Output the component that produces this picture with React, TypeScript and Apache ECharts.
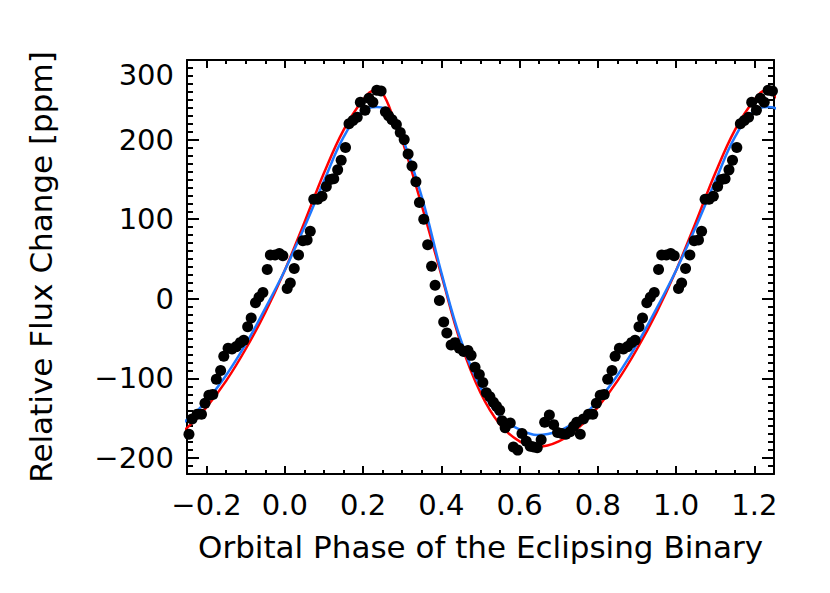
import React, { useEffect, useRef } from "react";
import * as echarts from "echarts";

// One orbital cycle of the binned light curve (phase, relative flux in ppm)
const dotPhase = [
  0.006, 0.014, 0.024, 0.035, 0.046, 0.057, 0.065, 0.074, 0.084, 0.095,
  0.106, 0.116, 0.125, 0.135, 0.144, 0.155, 0.164, 0.174, 0.185, 0.193,
  0.205, 0.215, 0.225, 0.235, 0.246, 0.257, 0.265, 0.274, 0.285, 0.295,
  0.305, 0.315, 0.325, 0.335, 0.344, 0.355, 0.365, 0.375, 0.384, 0.395,
  0.406, 0.414, 0.425, 0.435, 0.446, 0.457, 0.468, 0.476, 0.486, 0.497,
  0.506, 0.515, 0.524, 0.533, 0.541, 0.549, 0.555, 0.563, 0.576, 0.584,
  0.595, 0.606, 0.617, 0.627, 0.636, 0.645, 0.655, 0.664, 0.676, 0.687,
  0.697, 0.708, 0.718, 0.729, 0.738, 0.746, 0.755, 0.763, 0.776, 0.787,
  0.796, 0.806, 0.816, 0.825, 0.836, 0.844, 0.855, 0.865, 0.876, 0.886,
  0.895, 0.905, 0.914, 0.925, 0.934, 0.944, 0.955, 0.963, 0.975, 0.986,
  0.995,
];
const dotFlux = [
  13, 20, 38, 55, 73, 74, 85, 125, 125, 129,
  141, 150, 151, 162, 174, 190, 220, 224, 228, 247,
  237, 252, 247, 262, 261, 235, 230, 225, 219, 209,
  200, 182, 167, 147, 121, 100, 68, 41, 17, -2,
  -29, -43, -58, -55, -62, -66, -65, -71, -86, -95,
  -105, -118, -123, -130, -135, -140, -153, -162, -156, -186,
  -190, -169, -179, -185, -186, -187, -177, -155, -146, -158,
  -168, -169, -170, -167, -160, -155, -170, -151, -145, -145,
  -131, -121, -120, -101, -90, -72, -62, -63, -60, -55,
  -52, -35, -24, -5, 2, 8, 37, 55, 55, 57,
  54,
];

// Red model curve, one cycle
const redPhase = [0.0, 0.05, 0.1, 0.15, 0.2, 0.23, 0.25, 0.28, 0.3, 0.35, 0.4, 0.45, 0.5, 0.55, 0.6, 0.645, 0.7, 0.75, 0.8, 0.85, 0.9, 0.95];
const redFlux = [36, 96, 158, 212, 250, 262, 258, 224, 199, 117, 30, -56, -118, -158, -179, -186, -179, -162, -136, -103, -63, -17];

// Blue model curve, one cycle
const bluePhase = [0.0, 0.05, 0.1, 0.15, 0.2, 0.235, 0.27, 0.3, 0.35, 0.4, 0.45, 0.5, 0.55, 0.6, 0.645, 0.7, 0.75, 0.8, 0.85, 0.9, 0.95];
const blueFlux = [36, 90, 148, 203, 237, 241, 234, 203, 128, 33, -52, -111, -148, -164, -171, -166, -152, -128, -96, -57, -12];

const xMajorTicks = [-0.2, 0.0, 0.2, 0.4, 0.6, 0.8, 1.0, 1.2];
const yMajorTicks = [-200, -100, 0, 100, 200, 300];

const X_MIN = -0.25;
const X_MAX = 1.25;
const Y_MIN = -220;
const Y_MAX = 300;

const FONT = "DejaVu Sans";

function unfold(ph: number[], fl: number[], lo: number, hi: number) {
  const out: number[][] = [];
  for (const shift of [-1, 0, 1]) {
    for (let i = 0; i < ph.length; i++) {
      const x = +(ph[i] + shift).toFixed(4);
      if (x >= lo && x <= hi) out.push([x, fl[i]]);
    }
  }
  out.sort((a, b) => a[0] - b[0]);
  return out;
}

const minus = (s: string) => s.replace("-", "\u2212");

export default function App() {
  const ref = useRef<HTMLDivElement>(null);
  useEffect(() => {
    const chart = echarts.init(ref.current!, null, { renderer: "svg" });
    const black = "#000";
    const lineStyle = { color: black, width: 2 };
    const gridBox = { left: 187, right: 56, top: 60, bottom: 119, containLabel: false };

    const majorX = (pos: "bottom" | "top", labels: boolean) => ({
      type: "value",
      gridIndex: 0,
      position: pos,
      min: X_MIN,
      max: X_MAX,
      axisLine: { show: true, onZero: false, lineStyle },
      axisTick: { show: true, inside: true, length: 8, lineStyle: { color: black, width: 2 }, customValues: xMajorTicks },
      axisLabel: {
        show: labels,
        customValues: xMajorTicks,
        formatter: (v: number) => minus((Math.abs(v) < 1e-9 ? 0 : v).toFixed(1)),
        margin: 16,
        fontSize: 29,
        fontFamily: FONT,
        color: black,
      },
      splitLine: { show: false },
      ...(labels
        ? {
            name: "Orbital Phase of the Eclipsing Binary",
            nameLocation: "middle",
            nameGap: 57,
            nameTextStyle: { fontSize: 31, fontFamily: FONT, color: black },
          }
        : {}),
    });
    const minorX = (pos: "bottom" | "top") => ({
      type: "value",
      gridIndex: 1,
      position: pos,
      min: X_MIN,
      max: X_MAX,
      interval: 0.05,
      axisLine: { show: false, onZero: false },
      axisTick: { show: true, inside: true, length: 4, lineStyle: { color: black, width: 2 } },
      axisLabel: { show: false },
      splitLine: { show: false },
    });
    const majorY = (pos: "left" | "right", labels: boolean) => ({
      type: "value",
      gridIndex: 0,
      position: pos,
      min: Y_MIN,
      max: Y_MAX,
      axisLine: { show: true, onZero: false, lineStyle },
      axisTick: { show: true, inside: true, length: 12, lineStyle: { color: black, width: 2 }, customValues: yMajorTicks },
      axisLabel: {
        show: labels,
        customValues: yMajorTicks,
        formatter: (v: number) => minus(String(Math.round(v))),
        margin: 13,
        fontSize: 29,
        fontFamily: FONT,
        color: black,
        verticalAlignMaxLabel: "top",
      },
      splitLine: { show: false },
      ...(labels
        ? {
            name: "Relative Flux Change [ppm]",
            nameLocation: "middle",
            nameGap: 131,
            nameTextStyle: { fontSize: 31, fontFamily: FONT, color: black },
          }
        : {}),
    });
    const minorY = (pos: "left" | "right") => ({
      type: "value",
      gridIndex: 1,
      position: pos,
      min: Y_MIN,
      max: Y_MAX,
      interval: 10,
      axisLine: { show: false, onZero: false },
      axisTick: { show: true, inside: true, length: 6, lineStyle: { color: black, width: 2 } },
      axisLabel: { show: false },
      splitLine: { show: false },
    });

    chart.setOption({
      animation: false,
      backgroundColor: "#fff",
      grid: [gridBox, gridBox],
      xAxis: [majorX("bottom", true), majorX("top", false), minorX("bottom"), minorX("top")],
      yAxis: [majorY("left", true), majorY("right", false), minorY("left"), minorY("right")],
      series: [
        {
          type: "line",
          xAxisIndex: 0,
          yAxisIndex: 0,
          data: unfold(redPhase, redFlux, -0.4, 1.4),
          symbol: "none",
          smooth: 0.4,
          clip: true,
          lineStyle: { color: "#ff0000", width: 2.5 },
          z: 2,
        },
        {
          type: "line",
          xAxisIndex: 0,
          yAxisIndex: 0,
          data: unfold(bluePhase, blueFlux, -0.4, 1.4),
          symbol: "none",
          smooth: 0.4,
          clip: true,
          lineStyle: { color: "#1e78ff", width: 2.5 },
          z: 3,
        },
        {
          type: "scatter",
          xAxisIndex: 0,
          yAxisIndex: 0,
          data: unfold(dotPhase, dotFlux, X_MIN, X_MAX),
          symbol: "circle",
          symbolSize: 11,
          itemStyle: { color: "#000", opacity: 1 },
          z: 4,
        },
      ],
    });
    return () => chart.dispose();
  }, []);
  return (
    <div
      ref={ref}
      style={{ position: "fixed", left: 0, top: 0, width: 830, height: 593, background: "#fff" }}
    />
  );
}
